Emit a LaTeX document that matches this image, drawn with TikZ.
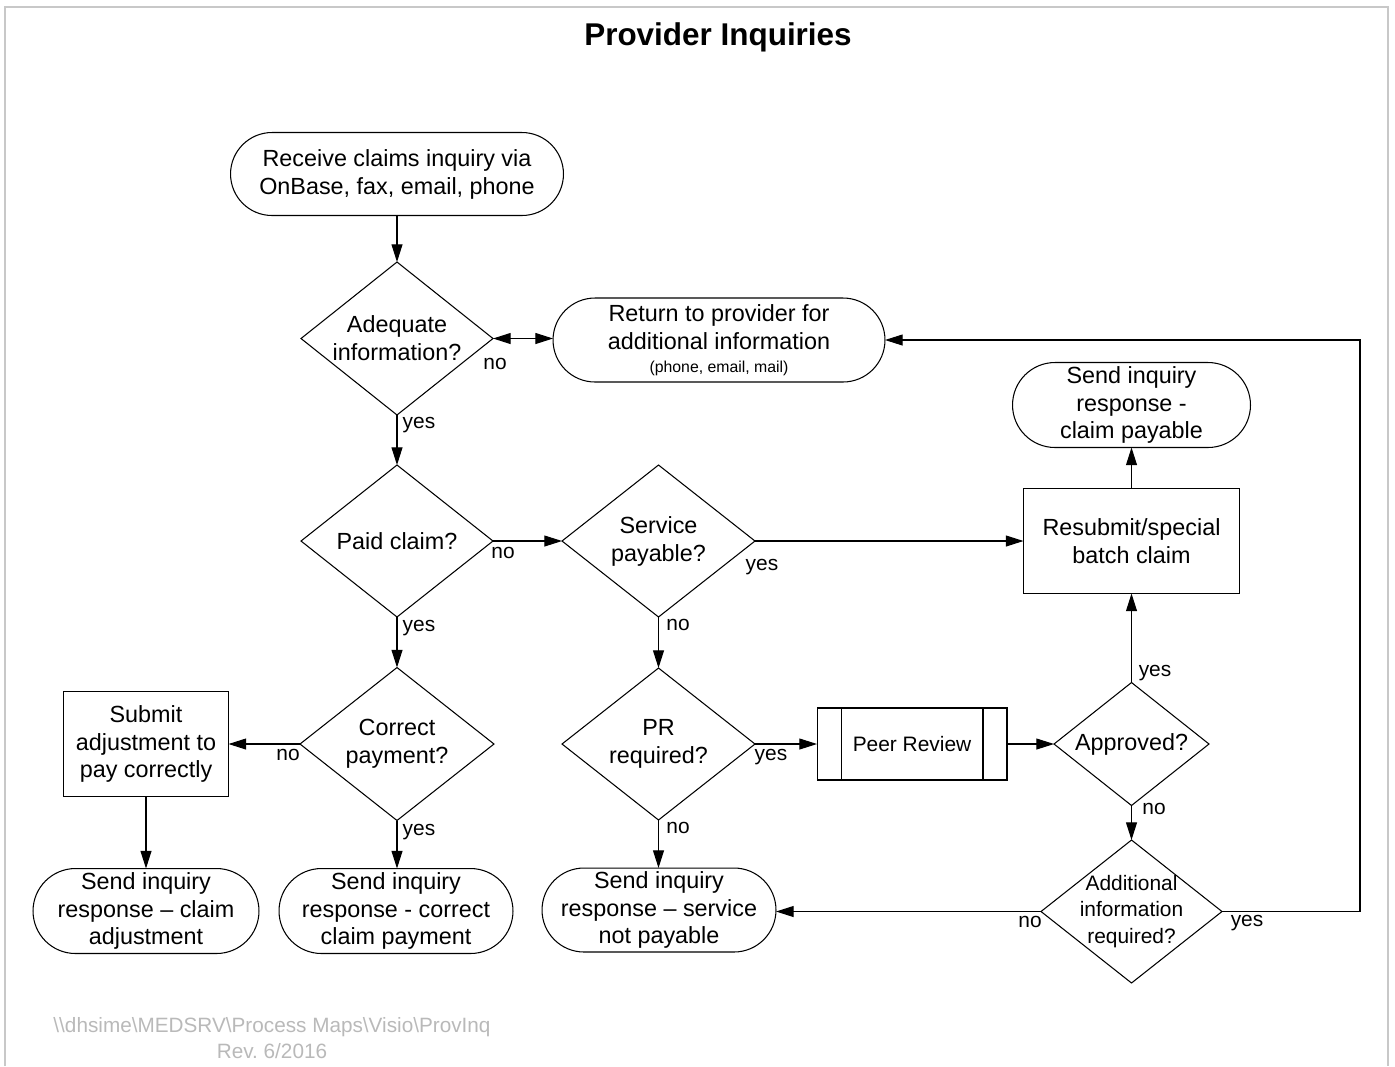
\documentclass[tikz,border=0pt]{standalone}
\usepackage{fontspec}
\setmainfont{Liberation Sans}
\usetikzlibrary{shapes.geometric, arrows.meta}
\definecolor{bordergray}{RGB}{200,200,200}
\definecolor{footgray}{RGB}{185,185,185}
\frenchspacing
\begin{document}
\begin{tikzpicture}[x=0.02cm, y=-0.02cm,
  every node/.style={inner sep=0pt, outer sep=0pt},
  mainfont/.style={font=\fontsize{13.3}{15.9}\selectfont},
  term/.style={draw, line width=0.6pt, rectangle, align=center, mainfont},
  procbox/.style={draw, line width=0.6pt, rectangle, align=center, mainfont},
  dia/.style={draw, line width=0.6pt, diamond},
  dtext/.style={align=center, mainfont},
  lbl/.style={font=\fontsize{11.9}{14}\selectfont, text height=1.5ex, text depth=0.25ex},
  tip/.tip={Triangle[length=10pt,width=6.2pt]},
  conn/.style={line width=0.6pt, -tip},
]
\useasboundingbox (0,0) rectangle (1395,1066);
% frame
\draw[bordergray, line width=1.4pt] (5,1066) -- (5,7) -- (1388,7) -- (1388,1066);
% title
\node[font=\fontsize{17.9}{20}\selectfont\bfseries] (title) at (718,37) {Provider Inquiries};

% terminators
\node[term, minimum width=6.66cm, minimum height=1.66cm, rounded corners=0.83cm] (start) at (397,174)
  {Receive claims inquiry via\\OnBase, fax, email, phone};
\node[term, minimum width=6.64cm, minimum height=1.68cm, rounded corners=0.84cm] (ret) at (719,340)
  {Return to provider for\\additional information\\[-3pt]{\fontsize{9}{10}\selectfont (phone, email, mail)}};
\node[term, minimum width=4.76cm, minimum height=1.70cm, rounded corners=0.85cm] (pay) at (1131.5,405)
  {Send inquiry\\response -\\claim payable};
\node[term, minimum width=4.52cm, minimum height=1.70cm, rounded corners=0.85cm] (sendadj) at (146,911)
  {Send inquiry\\response -- claim\\adjustment};
\node[term, minimum width=4.68cm, minimum height=1.70cm, rounded corners=0.85cm] (sendcorr) at (396,911)
  {Send inquiry\\response - correct\\claim payment};
\node[term, minimum width=4.68cm, minimum height=1.68cm, rounded corners=0.84cm] (sendnp) at (659,910)
  {Send inquiry\\response -- service\\not payable};

% process boxes
\node[procbox, minimum width=4.32cm, minimum height=2.10cm] (resub) at (1131.5,541)
  {Resubmit/special\\batch claim};
\node[procbox, minimum width=3.30cm, minimum height=2.10cm] (submit) at (146,744)
  {Submit\\adjustment to\\pay correctly};
\node[procbox, minimum width=3.80cm, minimum height=1.44cm, font=\fontsize{11.9}{14}\selectfont] (peer) at (912,744)
  {Peer Review};
\draw[line width=0.6pt] ([xshift=0.48cm]peer.north west) -- ([xshift=0.48cm]peer.south west);
\draw[line width=0.6pt] ([xshift=-0.48cm]peer.north east) -- ([xshift=-0.48cm]peer.south east);

% decisions
\node[dia, minimum width=3.84cm, minimum height=3.06cm] (adq) at (397,338.5) {};
\node[dtext] (adqT) at (adq.center) {Adequate\\information?};
\node[dia, minimum width=3.84cm, minimum height=3.04cm] (paid) at (397,541) {};
\node[dtext] (paidT) at (paid.center) {Paid claim?};
\node[dia, minimum width=3.86cm, minimum height=3.04cm] (serv) at (658.5,541) {};
\node[dtext] (servT) at (serv.center) {Service\\payable?};
\node[dia, minimum width=3.88cm, minimum height=3.06cm] (corr) at (397,744) {};
\node[dtext] (corrT) at (corr.center) {Correct\\payment?};
\node[dia, minimum width=3.86cm, minimum height=3.04cm] (prq) at (658.5,744) {};
\node[dtext] (prqT) at (prq.center) {PR\\required?};
\node[dia, minimum width=3.10cm, minimum height=2.46cm] (appr) at (1131.5,744) {};
\node[dtext] (apprT) at (appr.center) {Approved?};
\node[dia, minimum width=3.62cm, minimum height=2.86cm] (addl) at (1131.5,911.5) {};
\node[align=center, font=\fontsize{11.9}{15}\selectfont] (addlT) at (addl.center) {Additional\\information\\required?};

% connectors
\draw[conn] (start) -- (adq);
\draw[line width=0.6pt, tip-tip] (adq.east) -- (adq.east -| ret.west);
\draw[conn] (adq) -- (paid);
\draw[conn] (paid.east) -- (serv.west);
\draw[conn] (serv.east) -- (serv.east -| resub.west);
\draw[conn] (resub.north) -- (resub.north |- pay.south);
\draw[conn] (paid) -- (corr);
\draw[conn] (serv) -- (prq);
\draw[conn] (corr.west) -- (corr.west -| submit.east);
\draw[conn] (corr) -- (corr |- sendcorr.north);
\draw[conn] (submit) -- (sendadj);
\draw[conn] (prq.east) -- (prq.east -| peer.west);
\draw[conn] (prq) -- (prq |- sendnp.north);
\draw[conn] (peer.east) -- (appr.west);
\draw[conn] (appr) -- (resub);
\draw[conn] (appr) -- (addl);
\draw[conn] (addl.west) -- (addl.west -| sendnp.east);
\coordinate (loopx) at (1360,600);
\draw[conn] (addl.east) -- (addl.east -| loopx) -- (loopx |- ret.east) -- (ret.east);

% labels
\node[lbl] (l1) at (495,364) {no};
\node[lbl] (l2) at (419,423) {yes};
\node[lbl] (l3) at (503,553) {no};
\node[lbl] (l4) at (762,565) {yes};
\node[lbl] (l5) at (419,626) {yes};
\node[lbl] (l6) at (678,625) {no};
\node[lbl] (l7) at (288,755) {no};
\node[lbl] (l8) at (419,830) {yes};
\node[lbl] (l9) at (771,755) {yes};
\node[lbl] (l10) at (678,828) {no};
\node[lbl] (l11) at (1155,671) {yes};
\node[lbl] (l12) at (1154,809) {no};
\node[lbl] (l13) at (1030,922) {no};
\node[lbl] (l14) at (1247,921) {yes};

% footer
\node[align=center, text=footgray, font=\fontsize{11.8}{14.7}\selectfont] (foot) at (272,1038)
  {\textbackslash\textbackslash dhsime\textbackslash MEDSRV\textbackslash Process Maps\textbackslash Visio\textbackslash ProvInq\\Rev.\ 6/2016};
\end{tikzpicture}
\end{document}
